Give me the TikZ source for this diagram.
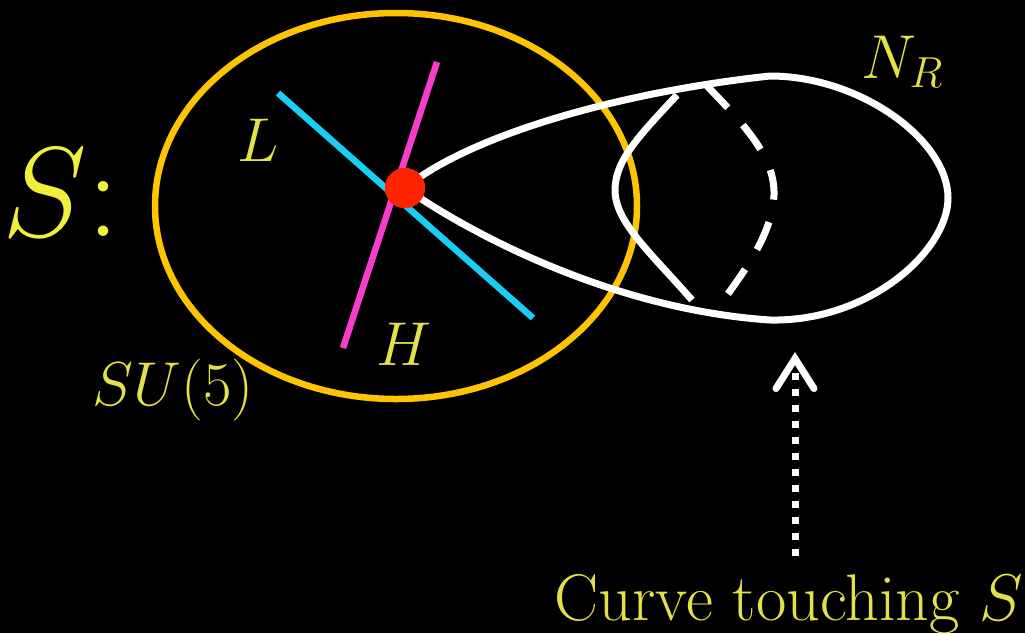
\RequirePackage{fix-cm}
\documentclass[tikz,border=0pt]{standalone}
\usepackage{tikz}
\usetikzlibrary{arrows.meta,positioning}

\definecolor{ellyellow}{RGB}{255,196,0}
\definecolor{lblyellow}{RGB}{226,226,72}
\definecolor{bigyellow}{RGB}{240,240,60}
\definecolor{linecyan}{RGB}{25,205,245}
\definecolor{linemag}{RGB}{250,60,205}
\definecolor{dotred}{RGB}{255,35,0}

\begin{document}
\begin{tikzpicture}[
    x=1pt, y=-1pt,
    field/.style={ellyellow, line width=6.5pt},
    higgs/.style={line width=6.5pt},
    tear/.style={white, line width=7pt, line join=round},
    vacuum/.style={circle, fill=dotred, minimum size=40pt, inner sep=0pt},
    lbl/.style={lblyellow, inner sep=0pt, font=\fontsize{62}{66}\selectfont},
    dotarrow/.style={white, line width=7pt, dash pattern=on 7pt off 9pt,
        -{Straight Barb[length=30pt, width=38pt, line cap=round]}}
]

% Background and frame
\fill[black] (0,0) rectangle (1025,633);
\useasboundingbox (0,0) rectangle (1025,633);

% The SU(5) vacuum manifold
\draw[field] (396,206) ellipse [x radius=241, y radius=193];

% Directions L and H through the vacuum
\draw[higgs, linecyan] (278,93) -- (533,318);
\draw[higgs, linemag] (437,62) -- (343,348);

\node[vacuum] (vac) at (405,188) {};

% Right-handed neutrino bulb
\draw[tear] (vac.center) .. controls (470,135) and (620,92) .. (770,76)
    .. controls (860,76) and (948,140) .. (948,198)
    .. controls (948,250) and (870,322) .. (770,320)
    .. controls (620,310) and (480,240) .. (vac.center);
\draw[tear] (677,95) .. controls (640,135) and (615,160) .. (615,190)
    .. controls (615,222) and (650,252) .. (692,300);
\draw[tear, dash pattern=on 30pt off 23pt] (707,86) .. controls (750,130) and (775,160) .. (774,195)
    .. controls (772,235) and (745,270) .. (720,305);
\node[vacuum] at (vac) {};

% Labels
\node[lbl, bigyellow, font=\fontsize{128}{132}\selectfont] (slabel) at (61,193) {$S$:};
\node[lbl] (llabel) at (258,140) {$L$};
\node[lbl] (hlabel) at (404,344) {$H$};
\node[lbl] (gutlabel) at (173,390) {$SU(5)$};
\node[lbl] (nrlabel) at (902,62) {$N_R$};
\node[lbl, font=\fontsize{66}{70}\selectfont] (curvelabel) at (789,604) {Curve touching $S$};

% Pointer to the curve
\coordinate (arrowfoot) at (795,556);
\coordinate (arrowtip) at (795,352);
\draw[dotarrow] (arrowfoot) -- (arrowtip);

\end{tikzpicture}
\end{document}
